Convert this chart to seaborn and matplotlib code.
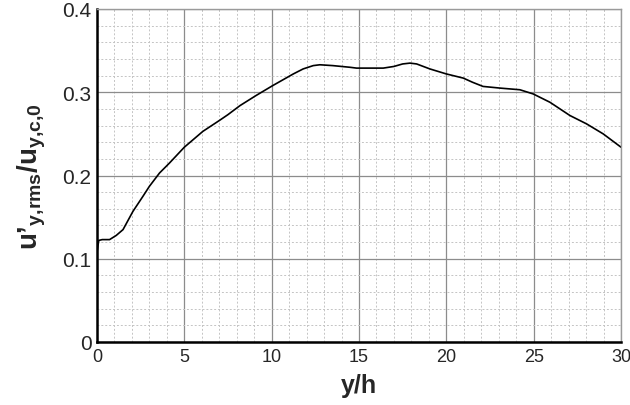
import numpy as np
import pandas as pd
import matplotlib
matplotlib.use("Agg")
import matplotlib.pyplot as plt
import seaborn as sns
from matplotlib.ticker import MultipleLocator, FuncFormatter

# y/h positions and normalised rms fluctuation
y_h = [0.0, 0.1, 0.3, 0.72, 1.1, 1.49, 2.06, 2.63, 3.0, 3.58, 4.15, 5.0,
       6.06, 7.0, 7.49, 8.19, 9.1, 10.06, 11.24, 11.8, 12.38, 12.76, 13.5,
       14.48, 14.86, 15.5, 16.39, 17.0, 17.5, 17.92, 18.3, 19.06, 20.0, 20.97,
       21.5, 22.1, 23.07, 24.21, 24.97, 25.93, 27.08, 28.03, 28.98, 30.0]
u_rms = [0.108, 0.122, 0.123, 0.123, 0.128, 0.135, 0.157, 0.175, 0.187, 0.203,
         0.215, 0.234, 0.253, 0.266, 0.273, 0.284, 0.296, 0.308, 0.322,
         0.328, 0.332, 0.333, 0.332, 0.330, 0.329, 0.329, 0.329, 0.331, 0.334,
         0.335, 0.334, 0.328, 0.322, 0.317, 0.312, 0.307, 0.305, 0.303, 0.298,
         0.288, 0.272, 0.262, 0.25, 0.234]

df = pd.DataFrame({"y_h": y_h, "u_rms": u_rms})

sns.set_style("white")
plt.rcParams["font.family"] = ["Liberation Sans", "DejaVu Sans"]
plt.rcParams["mathtext.fontset"] = "custom"
plt.rcParams["mathtext.rm"] = "Liberation Sans"
plt.rcParams["mathtext.bf"] = "Liberation Sans:bold"

fig = plt.figure(figsize=(6.3, 4.06), dpi=100)
ax = fig.add_axes([97 / 630, 63 / 406, 524 / 630, 333 / 406])

sns.lineplot(data=df, x="y_h", y="u_rms", ax=ax, color="black", lw=1.2)

ax.set_xlim(0, 30)
ax.set_ylim(0, 0.4)
ax.xaxis.set_major_locator(MultipleLocator(5))
ax.xaxis.set_minor_locator(MultipleLocator(1))
ax.yaxis.set_major_locator(MultipleLocator(0.1))
ax.yaxis.set_minor_locator(MultipleLocator(0.02))
ax.yaxis.set_major_formatter(FuncFormatter(lambda v, p: "0" if abs(v) < 1e-9 else f"{v:.1f}"))

ax.grid(which="major", color="#8c8c8c", lw=0.9, ls="-")
ax.grid(which="minor", color="#c4c4c4", lw=0.7, ls=(0, (2, 2)))
ax.set_axisbelow(True)

ax.tick_params(axis="both", which="major", direction="in", length=7, width=1.2,
               color="black", top=False, right=False)
ax.tick_params(axis="both", which="minor", direction="in", length=3.5, width=1.0,
               color="black", top=False, right=False)
ax.tick_params(axis="x", which="major", labelsize=13, pad=4)
ax.tick_params(axis="y", which="major", labelsize=15, pad=4)

for side in ["left", "bottom"]:
    ax.spines[side].set_color("black")
    ax.spines[side].set_linewidth(1.8)
for side in ["top", "right"]:
    ax.spines[side].set_color("#9a9a9a")
    ax.spines[side].set_linewidth(1.0)

ax.set_xlabel("y/h", fontsize=18, fontweight="bold", labelpad=6)
ax.set_ylabel("$\\mathbf{u\u2019_{y{,}rms}/u_{y{,}c{,}0}}$", fontsize=20, labelpad=10)

fig.savefig("out.png", dpi=100)
